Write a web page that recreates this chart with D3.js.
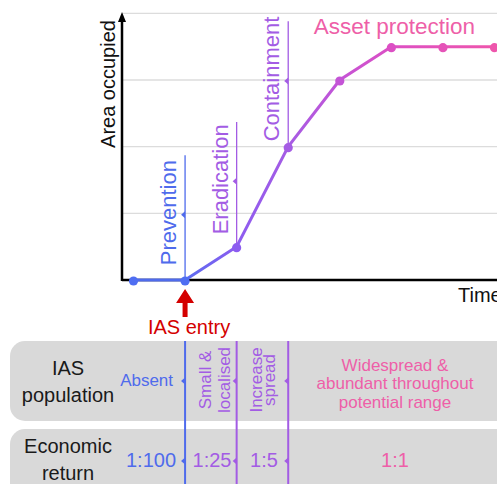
<!DOCTYPE html>
<html>
<head>
<meta charset="utf-8">
<script src="https://cdn.jsdelivr.net/npm/d3@7"></script>
<style>
  html,body{margin:0;padding:0;background:#fff;overflow:hidden;}
  svg{display:block;font-family:"Liberation Sans",Arial,sans-serif;}
</style>
</head>
<body>
<svg id="chart" width="497" height="484"></svg>
<script>
// ===== DATA =====
const times = [0,1,2,3,4,5,6,7];
const area = [0,0,0.5,2,3,3.5,3.5,3.5];
const gridLevels = [1,2,3,4];

const phaseNames = ["Prevention","Eradication","Containment"];
const phaseTimes = [1,2,3];
const phaseTops = [1.87,2.37,3.88];
const lastPhase = "Asset protection";

const populationStages = ["Absent",["Small &","localised"],["Increase","spread"],["Widespread &","abundant throughout","potential range"]];
const economicReturns = ["1:100","1:25","1:5","1:1"];
const rowLabels = [["IAS","population"],["Economic","return"]];

// ===== SETUP =====
const svg = d3.select("#chart");
const blue = "#4f6bec", purple = "#a35ce4", pink = "#ee5fa8", red = "#d40000";
const x = d3.scaleLinear().domain([0,7]).range([133.5,494.5]);
const y = d3.scaleLinear().domain([0,4]).range([280,13.3]);
const col = d3.scaleLinear().domain([1,2,3,4,5,7]).range(["#5a6cf0","#8c5cf0","#a55ce4","#c454d6","#dc4fc4","#ee56ac"]);
const x0 = 122;

// grid
svg.append("g").selectAll("line").data(gridLevels).join("line")
  .attr("x1",x0).attr("x2",520).attr("y1",d=>y(d)).attr("y2",d=>y(d))
  .attr("stroke","#dcdcdc").attr("stroke-width",1.3);

// axes
svg.append("line").attr("x1",x0).attr("x2",520).attr("y1",y(0)).attr("y2",y(0)).attr("stroke","#000").attr("stroke-width",2.5);
svg.append("line").attr("x1",x0).attr("x2",x0).attr("y1",y(0)+1).attr("y2",20).attr("stroke","#000").attr("stroke-width",2.5);
svg.append("path").attr("d",`M${x0-4},22 L${x0},12 L${x0+4},22 Z`).attr("fill","#000");

svg.append("text").attr("transform",`translate(115,${y(0)-196}) rotate(-90)`)
  .attr("text-anchor","middle").attr("font-size",20).attr("fill","#111").text("Area occupied");
svg.append("text").attr("x",458).attr("y",302).attr("font-size",20).attr("fill","#111").text("Time");

// phase lines + labels
const arrowL = (cx,cy,c) => svg.append("path").attr("d",`M${cx},${cy-3.5} L${cx-4},${cy} L${cx},${cy+3.5} Z`).attr("fill",c);
const phaseColors = [blue,purple,purple];
phaseTimes.forEach((t,i) => {
  const px = x(t), top = y(phaseTops[i]), bot = y(area[t]);
  const mid = (top+bot)/2 - 3;
  svg.append("line").attr("x1",px).attr("x2",px).attr("y1",top).attr("y2",bot)
    .attr("stroke",phaseColors[i]).attr("stroke-width",1.3);
  arrowL(px,mid,phaseColors[i]);
  svg.append("text").attr("transform",`translate(${px-9},${mid-2}) rotate(-90)`)
    .attr("text-anchor","middle").attr("font-size",22).attr("fill",phaseColors[i]).text(phaseNames[i]);
});
svg.append("text").attr("x",x(5)+3).attr("y",34).attr("text-anchor","middle")
  .attr("font-size",22.5).attr("fill",pink).text(lastPhase);

// gradient line
const grad = svg.append("defs").append("linearGradient").attr("id","lg")
  .attr("gradientUnits","userSpaceOnUse").attr("x1",x(1)).attr("x2",x(7)).attr("y1",0).attr("y2",0);
d3.range(1,7.01,0.5).forEach(t => grad.append("stop").attr("offset",(t-1)/6).attr("stop-color",col(t)));

const line = d3.line().x(d=>x(d[0])).y(d=>y(d[1]));
const pts = times.map((t,i)=>[t,area[i]]);
svg.append("path").attr("d",line(pts.slice(0,2))).attr("fill","none").attr("stroke",blue).attr("stroke-width",3);
svg.append("path").attr("d",line(pts.slice(1))).attr("fill","none").attr("stroke","url(#lg)").attr("stroke-width",3);
svg.append("g").selectAll("circle").data(pts).join("circle")
  .attr("cx",d=>x(d[0])).attr("cy",d=>y(d[1])+1).attr("r",4.6)
  .attr("fill",d=>d[0]<=1?"#4f6ef2":col(d[0]));

// IAS entry arrow
const ax = x(1);
svg.append("path").attr("d",`M${ax},289 L${ax+9},303 L${ax+2.5},303 L${ax+2.5},317 L${ax-2.5},317 L${ax-2.5},303 L${ax-9},303 Z`).attr("fill",red);
svg.append("text").attr("x",ax+4).attr("y",334).attr("text-anchor","middle").attr("font-size",20).attr("fill",red).text("IAS entry");

// ===== TABLE =====
const rowTop = [341,429], rowH = [80,90];
rowTop.forEach((t,i) => {
  svg.append("rect").attr("x",10).attr("y",t).attr("width",540).attr("height",rowH[i]).attr("rx",15).attr("fill","#d9d9d9");
  rowLabels[i].forEach((s,j) => svg.append("text").attr("x",68).attr("y",i===0?375+j*27:453+j*27)
    .attr("text-anchor","middle").attr("font-size",20).attr("fill","#1a1a1a").text(s));
});
const tblColors = [blue,purple,purple];
phaseTimes.forEach((t,i) => {
  svg.append("line").attr("x1",x(t)).attr("x2",x(t)).attr("y1",341).attr("y2",484)
    .attr("stroke",tblColors[i]).attr("stroke-width",2);
  arrowL(x(t),381,tblColors[i]);
  arrowL(x(t),461,tblColors[i]);
});

// population row
svg.append("text").attr("x",x(1)-12).attr("y",386).attr("text-anchor","end").attr("font-size",17).attr("fill",blue).text(populationStages[0]);
[[populationStages[1],[211,230]],[populationStages[2],[262,275]]].forEach(([lines,bx]) => {
  lines.forEach((s,j) => svg.append("text").attr("transform",`translate(${bx[j]},380) rotate(-90)`)
    .attr("text-anchor","middle").attr("font-size",17).attr("fill",purple).text(s));
});
populationStages[3].forEach((s,j) => svg.append("text").attr("x",395).attr("y",371+j*18.3)
  .attr("text-anchor","middle").attr("font-size",17).attr("fill",pink).text(s));

// economic row
const econX = [null,212,264,395], econC = [blue,purple,purple,pink];
economicReturns.forEach((s,i) => {
  const t = svg.append("text").attr("y",467).attr("font-size",20).attr("fill",econC[i]).text(s);
  if(i===0) t.attr("x",x(1)-9).attr("text-anchor","end");
  else t.attr("x",econX[i]).attr("text-anchor","middle");
});
</script>
</body>
</html>
